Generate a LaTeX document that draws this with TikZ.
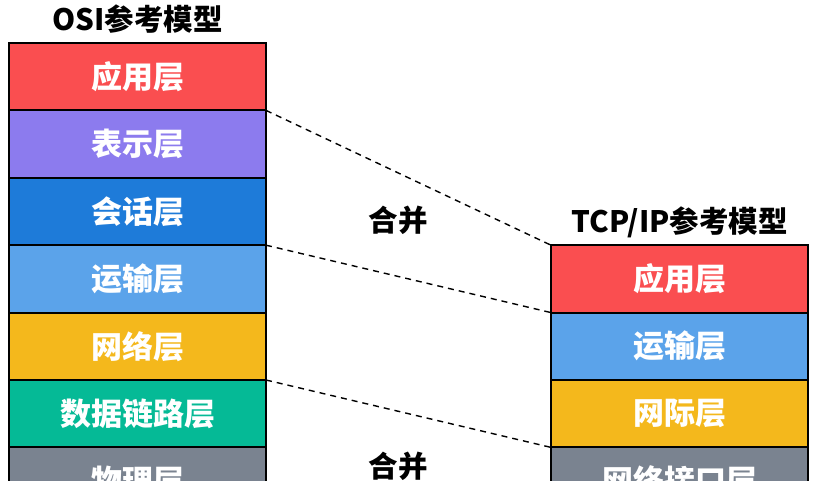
\documentclass[tikz,border=0pt]{standalone}
\usepackage{fontspec}
\setmainfont{Noto Sans CJK SC}
\usetikzlibrary{positioning}
\definecolor{appred}{HTML}{FA4E50}
\definecolor{prespurple}{HTML}{8C7BEE}
\definecolor{sessblue}{HTML}{1E7BD9}
\definecolor{transblue}{HTML}{5BA3EA}
\definecolor{netyellow}{HTML}{F4B81C}
\definecolor{linkgreen}{HTML}{05BA96}
\definecolor{physgray}{HTML}{7A8390}
\begin{document}
\begin{tikzpicture}[x=1pt, y=-1pt,
        layer/.style={draw=black, line width=2pt, outer sep=0pt, minimum width=257pt, minimum height=67.4pt, text=white, font=\fontsize{31}{33}\selectfont\bfseries},
        title/.style={font=\fontsize{29.5}{31}\selectfont\bfseries},
        merge/.style={black, dash pattern=on 6pt off 5pt, line width=1.4pt}]
        \useasboundingbox (0, 0) rectangle (817, 481);
        \clip (0, 0) rectangle (817, 481);

        % OSI
        \node [title] (ositit) at (137.5, 19) {OSI参考模型};
        \node [layer, fill=appred, anchor=north] (osi1) at (137.5, 43) {应用层};
        \node [layer, fill=prespurple, below=0pt of osi1] (osi2) {表示层};
        \node [layer, fill=sessblue, below=0pt of osi2] (osi3) {会话层};
        \node [layer, fill=transblue, below=0pt of osi3] (osi4) {运输层};
        \node [layer, fill=netyellow, below=0pt of osi4] (osi5) {网络层};
        \node [layer, fill=linkgreen, below=0pt of osi5] (osi6) {数据链路层};
        \node [layer, fill=physgray, below=0pt of osi6] (osi7) {物理层};

        % TCP/IP
        \node [title] (tcptit) at (679.5, 222) {TCP/IP参考模型};
        \node [layer, fill=appred, anchor=north] (tcp1) at (679.5, 245.2) {应用层};
        \node [layer, fill=transblue, below=0pt of tcp1] (tcp2) {运输层};
        \node [layer, fill=netyellow, below=0pt of tcp2] (tcp3) {网际层};
        \node [layer, fill=physgray, below=0pt of tcp3] (tcp4) {网络接口层};

        \draw [merge] (osi2.north east) -- (tcp1.north west);
        \draw [merge] (osi4.north east) -- (tcp2.north west);
        \draw [merge] (osi6.north east) -- (tcp4.north west);

        \node [title] (merge1) at (398, 220) {合并};
        \node [title] (merge2) at (398, 466) {合并};
    \end{tikzpicture}
\end{document}
